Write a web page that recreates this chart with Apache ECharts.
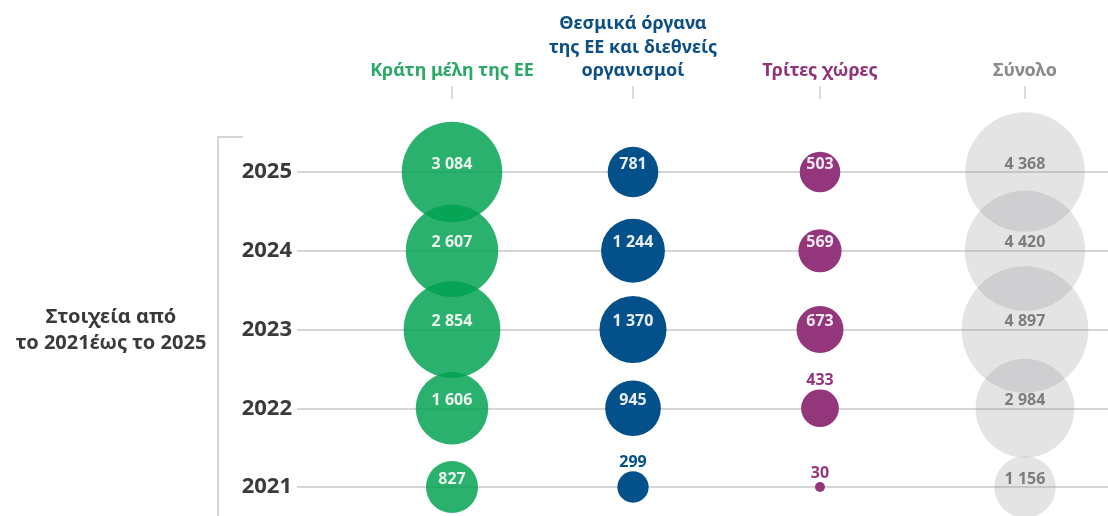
<!DOCTYPE html>
<html>
<head>
<meta charset="utf-8">
<script src="https://cdn.jsdelivr.net/npm/echarts@6/dist/echarts.min.js"></script>
<style>
  html, body { margin: 0; padding: 0; background: #fff; }
  #chart { width: 1108px; height: 516px; }
</style>
</head>
<body>
<div id="chart"></div>
<script>
// columns (headers) and rows (years, bottom to top)
var categories = ["Κράτη μέλη της ΕΕ", "Θεσμικά όργανα\nτης ΕΕ και διεθνείς\nοργανισμοί", "Τρίτες χώρες", "Σύνολο"];
var years = ["2021", "2022", "2023", "2024", "2025"];

// values per year, 2021 -> 2025
var memberStates = [827, 1606, 2854, 2607, 3084];
var euBodies = [299, 945, 1370, 1244, 781];
var thirdCountries = [30, 433, 673, 569, 503];
var total = [1156, 2984, 4897, 4420, 4368];

var columnValues = [memberStates, euBodies, thirdCountries, total];

// styling
var colors = ["#00a150", "#03508a", "#93367c", "#939599"];
var opacities = [0.83, 1, 1, 0.25];
var headerColors = ["#2aa866", "#0c4f86", "#8e3379", "#8a8a8a"];
var insideLabelColors = ["#e9f3ec", "#e9eef4", "#f3e9f0", "#7d7d7d"];
var columnCenters = [452, 633, 820, 1025];
var FONT = '"Noto Sans", "Open Sans", sans-serif';
var GRID_TOP = 172, GRID_BOTTOM = 29;

function fmt(v) {
  if (v >= 1000) {
    return Math.floor(v / 1000) + " " + String(v % 1000).padStart(3, "0");
  }
  return String(v);
}

var chart = echarts.init(document.getElementById("chart"));

// grid 0 holds the year labels + horizontal lines, grids 1..4 one column each
var grids = [{ left: 297, right: 0, top: GRID_TOP, bottom: GRID_BOTTOM }];
var xAxes = [{ gridIndex: 0, type: "value", show: false }];
var yAxes = [{
  gridIndex: 0,
  type: "category",
  data: years,
  boundaryGap: false,
  axisLine: { show: false },
  axisTick: { show: false },
  axisLabel: { margin: 5, color: "#3a3a3a", fontSize: 22, fontWeight: "bold", fontFamily: FONT },
  splitLine: { show: true, interval: 0, lineStyle: { color: "#c9c9c9", width: 1.5 } }
}];
var series = [];

categories.forEach(function (cat, k) {
  var g = k + 1;
  grids.push({ left: columnCenters[k] - 50, width: 100, top: GRID_TOP, bottom: GRID_BOTTOM });
  xAxes.push({
    gridIndex: g,
    type: "category",
    data: [cat],
    position: "top",
    offset: 73,
    axisLine: { show: false },
    axisTick: { show: true, alignWithLabel: true, length: 13, lineStyle: { color: "#cfcfcf", width: 1.5 } },
    axisLabel: {
      margin: 16, color: headerColors[k], fontSize: 18, fontWeight: "bold",
      fontFamily: FONT, lineHeight: 23.5, interval: 0
    },
    splitLine: { show: false }
  });
  yAxes.push({ gridIndex: g, type: "category", data: years, boundaryGap: false, show: false });

  var vals = columnValues[k];
  var data = vals.map(function (v, i) {
    var item = { value: [cat, years[i], v] };
    // small bubbles get their number above them
    if (v < 450) {
      item.label = { position: "top", distance: 1, offset: [0, 0], color: colors[k] };
    }
    return item;
  });

  series.push({
    type: "scatter",
    xAxisIndex: g,
    yAxisIndex: g,
    clip: false,
    data: data,
    symbolSize: function (d) { return 1.81 * Math.sqrt(d[2]); },
    itemStyle: { color: colors[k], opacity: opacities[k] },
    label: {
      show: true,
      position: "inside",
      offset: [0, -8],
      opacity: 1,
      formatter: function (p) { return fmt(p.value[2]); },
      color: insideLabelColors[k],
      fontSize: 16,
      fontWeight: "bold",
      fontFamily: FONT
    },
    emphasis: { disabled: true }
  });
});

chart.setOption({
  animation: false,
  grid: grids,
  xAxis: xAxes,
  yAxis: yAxes,
  series: series,
  graphic: [
    {
      type: "polyline",
      shape: { points: [[243, 137], [218, 137], [218, 516]] },
      style: { stroke: "#c8c8c8", lineWidth: 1.5, fill: null }
    },
    {
      type: "text",
      x: 111,
      y: 330,
      style: {
        text: "Στοιχεία από\nτο 2021έως το 2025",
        align: "center",
        verticalAlign: "middle",
        lineHeight: 26,
        font: 'bold 20px "Noto Sans", "Open Sans", sans-serif',
        fill: "#3a3a3a"
      }
    }
  ]
});
</script>
</body>
</html>
